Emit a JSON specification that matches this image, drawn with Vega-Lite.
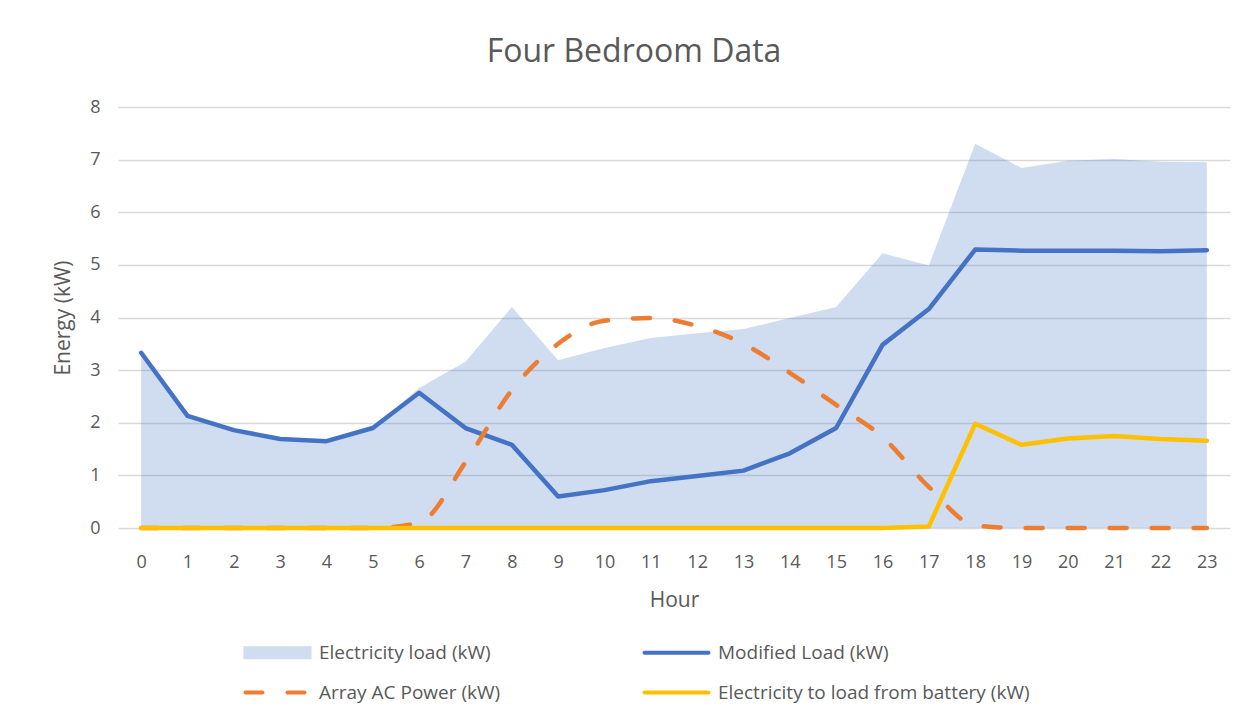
{
  "$schema": "https://vega.github.io/schema/vega-lite/v6.json",
  "autosize": "none",
  "width": 1112,
  "height": 421,
  "padding": {"left": 118, "top": 107, "right": 24, "bottom": 193},
  "background": "white",
  "title": {
    "text": "Four Bedroom Data",
    "font": "Open Sans",
    "fontSize": 32,
    "fontWeight": "normal",
    "color": "#595959",
    "anchor": "middle",
    "dx": -40,
    "offset": 29
  },
  "config": {
    "view": {"stroke": null},
    "font": "Open Sans",
    "axis": {
      "labelFont": "Open Sans",
      "titleFont": "Open Sans",
      "labelColor": "#595959",
      "titleColor": "#595959",
      "titleFontWeight": "normal"
    }
  },
  "data": {
    "values": [
      {"hour": 0, "series": "Electricity load (kW)", "value": 3.33},
      {"hour": 1, "series": "Electricity load (kW)", "value": 2.13},
      {"hour": 2, "series": "Electricity load (kW)", "value": 1.86},
      {"hour": 3, "series": "Electricity load (kW)", "value": 1.69},
      {"hour": 4, "series": "Electricity load (kW)", "value": 1.65},
      {"hour": 5, "series": "Electricity load (kW)", "value": 1.9},
      {"hour": 6, "series": "Electricity load (kW)", "value": 2.66},
      {"hour": 7, "series": "Electricity load (kW)", "value": 3.16},
      {"hour": 8, "series": "Electricity load (kW)", "value": 4.2},
      {"hour": 9, "series": "Electricity load (kW)", "value": 3.19},
      {"hour": 10, "series": "Electricity load (kW)", "value": 3.42},
      {"hour": 11, "series": "Electricity load (kW)", "value": 3.61},
      {"hour": 12, "series": "Electricity load (kW)", "value": 3.7},
      {"hour": 13, "series": "Electricity load (kW)", "value": 3.78},
      {"hour": 14, "series": "Electricity load (kW)", "value": 3.99},
      {"hour": 15, "series": "Electricity load (kW)", "value": 4.2},
      {"hour": 16, "series": "Electricity load (kW)", "value": 5.22},
      {"hour": 17, "series": "Electricity load (kW)", "value": 4.99},
      {"hour": 18, "series": "Electricity load (kW)", "value": 7.3},
      {"hour": 19, "series": "Electricity load (kW)", "value": 6.84},
      {"hour": 20, "series": "Electricity load (kW)", "value": 6.98},
      {"hour": 21, "series": "Electricity load (kW)", "value": 7.01},
      {"hour": 22, "series": "Electricity load (kW)", "value": 6.96},
      {"hour": 23, "series": "Electricity load (kW)", "value": 6.95},

      {"hour": 0, "series": "Modified Load (kW)", "value": 3.33},
      {"hour": 1, "series": "Modified Load (kW)", "value": 2.13},
      {"hour": 2, "series": "Modified Load (kW)", "value": 1.86},
      {"hour": 3, "series": "Modified Load (kW)", "value": 1.69},
      {"hour": 4, "series": "Modified Load (kW)", "value": 1.65},
      {"hour": 5, "series": "Modified Load (kW)", "value": 1.9},
      {"hour": 6, "series": "Modified Load (kW)", "value": 2.57},
      {"hour": 7, "series": "Modified Load (kW)", "value": 1.9},
      {"hour": 8, "series": "Modified Load (kW)", "value": 1.58},
      {"hour": 9, "series": "Modified Load (kW)", "value": 0.6},
      {"hour": 10, "series": "Modified Load (kW)", "value": 0.72},
      {"hour": 11, "series": "Modified Load (kW)", "value": 0.89},
      {"hour": 12, "series": "Modified Load (kW)", "value": 0.99},
      {"hour": 13, "series": "Modified Load (kW)", "value": 1.09},
      {"hour": 14, "series": "Modified Load (kW)", "value": 1.42},
      {"hour": 15, "series": "Modified Load (kW)", "value": 1.9},
      {"hour": 16, "series": "Modified Load (kW)", "value": 3.48},
      {"hour": 17, "series": "Modified Load (kW)", "value": 4.16},
      {"hour": 18, "series": "Modified Load (kW)", "value": 5.29},
      {"hour": 19, "series": "Modified Load (kW)", "value": 5.27},
      {"hour": 20, "series": "Modified Load (kW)", "value": 5.27},
      {"hour": 21, "series": "Modified Load (kW)", "value": 5.27},
      {"hour": 22, "series": "Modified Load (kW)", "value": 5.26},
      {"hour": 23, "series": "Modified Load (kW)", "value": 5.28},

      {"hour": 0, "series": "Array AC Power (kW)", "value": 0},
      {"hour": 1, "series": "Array AC Power (kW)", "value": 0},
      {"hour": 2, "series": "Array AC Power (kW)", "value": 0},
      {"hour": 3, "series": "Array AC Power (kW)", "value": 0},
      {"hour": 4, "series": "Array AC Power (kW)", "value": 0},
      {"hour": 5, "series": "Array AC Power (kW)", "value": 0},
      {"hour": 6, "series": "Array AC Power (kW)", "value": 0.1},
      {"hour": 7, "series": "Array AC Power (kW)", "value": 1.25},
      {"hour": 8, "series": "Array AC Power (kW)", "value": 2.62},
      {"hour": 9, "series": "Array AC Power (kW)", "value": 3.5},
      {"hour": 10, "series": "Array AC Power (kW)", "value": 3.94},
      {"hour": 11, "series": "Array AC Power (kW)", "value": 3.99},
      {"hour": 12, "series": "Array AC Power (kW)", "value": 3.84},
      {"hour": 13, "series": "Array AC Power (kW)", "value": 3.5},
      {"hour": 14, "series": "Array AC Power (kW)", "value": 2.95},
      {"hour": 15, "series": "Array AC Power (kW)", "value": 2.34},
      {"hour": 16, "series": "Array AC Power (kW)", "value": 1.73},
      {"hour": 17, "series": "Array AC Power (kW)", "value": 0.78},
      {"hour": 18, "series": "Array AC Power (kW)", "value": 0.05},
      {"hour": 19, "series": "Array AC Power (kW)", "value": 0},
      {"hour": 20, "series": "Array AC Power (kW)", "value": 0},
      {"hour": 21, "series": "Array AC Power (kW)", "value": 0},
      {"hour": 22, "series": "Array AC Power (kW)", "value": 0},
      {"hour": 23, "series": "Array AC Power (kW)", "value": 0},

      {"hour": 0, "series": "Electricity to load from battery (kW)", "value": 0},
      {"hour": 1, "series": "Electricity to load from battery (kW)", "value": 0},
      {"hour": 2, "series": "Electricity to load from battery (kW)", "value": 0},
      {"hour": 3, "series": "Electricity to load from battery (kW)", "value": 0},
      {"hour": 4, "series": "Electricity to load from battery (kW)", "value": 0},
      {"hour": 5, "series": "Electricity to load from battery (kW)", "value": 0},
      {"hour": 6, "series": "Electricity to load from battery (kW)", "value": 0},
      {"hour": 7, "series": "Electricity to load from battery (kW)", "value": 0},
      {"hour": 8, "series": "Electricity to load from battery (kW)", "value": 0},
      {"hour": 9, "series": "Electricity to load from battery (kW)", "value": 0},
      {"hour": 10, "series": "Electricity to load from battery (kW)", "value": 0},
      {"hour": 11, "series": "Electricity to load from battery (kW)", "value": 0},
      {"hour": 12, "series": "Electricity to load from battery (kW)", "value": 0},
      {"hour": 13, "series": "Electricity to load from battery (kW)", "value": 0},
      {"hour": 14, "series": "Electricity to load from battery (kW)", "value": 0},
      {"hour": 15, "series": "Electricity to load from battery (kW)", "value": 0},
      {"hour": 16, "series": "Electricity to load from battery (kW)", "value": 0},
      {"hour": 17, "series": "Electricity to load from battery (kW)", "value": 0.03},
      {"hour": 18, "series": "Electricity to load from battery (kW)", "value": 1.98},
      {"hour": 19, "series": "Electricity to load from battery (kW)", "value": 1.58},
      {"hour": 20, "series": "Electricity to load from battery (kW)", "value": 1.7},
      {"hour": 21, "series": "Electricity to load from battery (kW)", "value": 1.75},
      {"hour": 22, "series": "Electricity to load from battery (kW)", "value": 1.69},
      {"hour": 23, "series": "Electricity to load from battery (kW)", "value": 1.66}
    ]
  },
  "encoding": {
    "x": {
      "field": "hour",
      "type": "ordinal",
      "scale": {"type": "point", "padding": 0.5},
      "axis": {
        "title": "Hour",
        "titleFontSize": 21,
        "titlePadding": 18,
        "labelFontSize": 18,
        "labelAngle": 0,
        "labelPadding": 25,
        "ticks": false,
        "domain": false,
        "grid": false
      }
    },
    "y": {
      "field": "value",
      "type": "quantitative",
      "scale": {"domain": [0, 8]},
      "axis": {
        "title": "Energy (kW)",
        "titleFontSize": 21,
        "titlePadding": 16,
        "labelFontSize": 18,
        "labelPadding": 18,
        "tickCount": 8,
        "ticks": false,
        "domain": false,
        "grid": true,
        "gridColor": "#D9D9D9",
        "gridWidth": 1.5
      }
    },
    "color": {
      "field": "series",
      "type": "nominal",
      "scale": {
        "domain": ["Electricity load (kW)", "Array AC Power (kW)", "Modified Load (kW)", "Electricity to load from battery (kW)"],
        "range": ["#4472C4", "#ED7D31", "#4472C4", "#FFC000"]
      },
      "legend": {
        "title": null,
        "orient": "none",
        "legendX": 121,
        "legendY": 536,
        "columns": 2,
        "columnPadding": 135,
        "rowPadding": 20,
        "padding": 0,
        "symbolSize": 100,
        "symbolStrokeWidth": 4,
        "labelOffset": 61,
        "labelFont": "Open Sans",
        "labelFontSize": 19,
        "labelColor": "#595959",
        "labelLimit": 500,
        "encode": {
          "symbols": {
            "update": {
              "shape": {"signal": "datum.value === 'Electricity load (kW)' ? 'M-1,-1.3H12.6V1.3H-1Z' : 'M-0.6,0H12.2'"},
              "fill": {"signal": "datum.value === 'Electricity load (kW)' ? '#4472C4' : 'transparent'"},
              "fillOpacity": {"signal": "datum.value === 'Electricity load (kW)' ? 0.25 : 0"},
              "stroke": {"signal": "datum.value === 'Electricity load (kW)' ? 'transparent' : (datum.value === 'Modified Load (kW)' ? '#4472C4' : (datum.value === 'Array AC Power (kW)' ? '#ED7D31' : '#FFC000'))"},
              "strokeOpacity": {"signal": "datum.value === 'Electricity load (kW)' ? 0 : 1"},
              "strokeDash": {"signal": "datum.value === 'Array AC Power (kW)' ? [17, 25] : []"},
              "strokeCap": {"value": "round"},
              "opacity": {"value": 1}
            }
          }
        }
      }
    }
  },
  "layer": [
    {
      "transform": [{"filter": "datum.series === 'Electricity load (kW)'"}],
      "mark": {"type": "area", "fillOpacity": 0.25, "color": "#4472C4"}
    },
    {
      "transform": [{"filter": "datum.series === 'Modified Load (kW)'"}],
      "mark": {"type": "line", "strokeWidth": 4.5, "strokeCap": "round", "strokeJoin": "round"}
    },
    {
      "transform": [{"filter": "datum.series === 'Array AC Power (kW)'"}],
      "mark": {"type": "line", "strokeWidth": 4.5, "strokeCap": "round", "interpolate": "monotone", "strokeDash": [17, 25]}
    },
    {
      "transform": [{"filter": "datum.series === 'Electricity to load from battery (kW)'"}],
      "mark": {"type": "line", "strokeWidth": 4.5, "strokeCap": "round", "strokeJoin": "round"}
    }
  ]
}
